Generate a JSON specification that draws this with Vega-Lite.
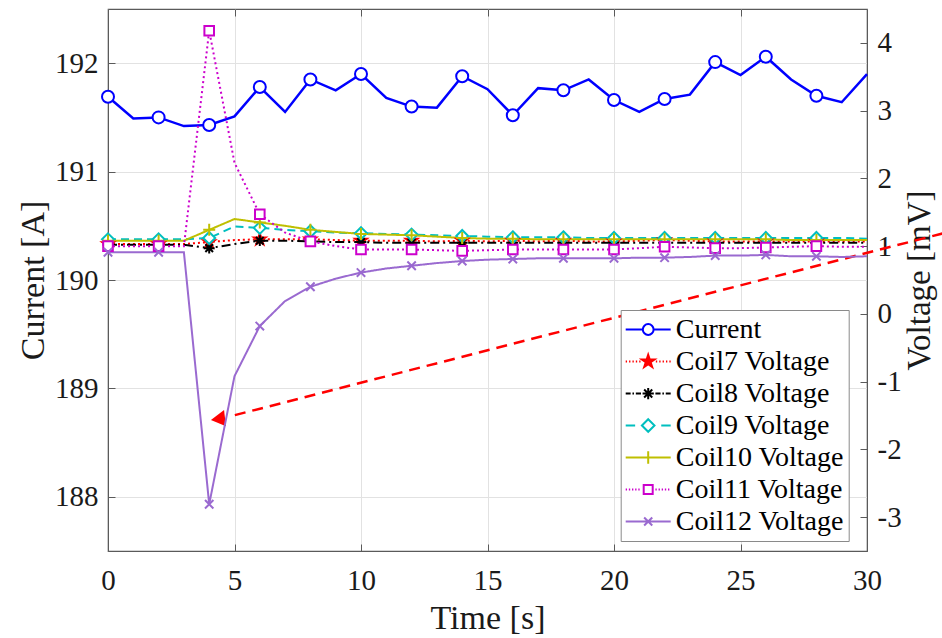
{
  "$schema": "https://vega.github.io/schema/vega-lite/v6.json",
  "width": 759,
  "height": 542,
  "autosize": "none",
  "padding": {"left": 108, "top": 9, "right": 75, "bottom": 87},
  "background": "white",
  "config": {
    "font": "Liberation Serif",
    "view": {"stroke": "#5a5a5a", "strokeWidth": 1.2},
    "axis": {
      "labelFont": "Liberation Serif", "titleFont": "Liberation Serif",
      "labelFontSize": 29, "titleFontSize": 34, "titleFontWeight": "normal",
      "labelColor": "#1a1a1a", "titleColor": "#1a1a1a",
      "domainColor": "#5a5a5a", "tickColor": "#5a5a5a", "tickSize": -7,
      "gridColor": "#e2e2e2", "gridWidth": 1
    },
    "legend": {
      "orient": "none", "legendX": 512.7, "legendY": 301,
      "labelFont": "Liberation Serif", "labelFontSize": 28, "labelColor": "#000000",
      "strokeColor": "#8a8a8a", "fillColor": "white", "padding": 4,
      "symbolSize": 2025, "symbolStrokeWidth": 2, "labelOffset": 4,
      "rowPadding": 1, "clipHeight": 31, "labelLimit": 400
    }
  },
  "datasets": {
    "d": [
      {"t": 0, "Current": 191.69, "Coil7 Voltage": 1.03, "Coil8 Voltage": 1.02, "Coil9 Voltage": 1.10, "Coil10 Voltage": 1.08, "Coil11 Voltage": 1.00, "Coil12 Voltage": 0.91},
      {"t": 1, "Current": 191.49, "Coil7 Voltage": 1.03, "Coil8 Voltage": 1.02, "Coil9 Voltage": 1.10, "Coil10 Voltage": 1.08, "Coil11 Voltage": 1.00, "Coil12 Voltage": 0.91},
      {"t": 2, "Current": 191.50, "Coil7 Voltage": 1.03, "Coil8 Voltage": 1.02, "Coil9 Voltage": 1.10, "Coil10 Voltage": 1.08, "Coil11 Voltage": 1.00, "Coil12 Voltage": 0.91},
      {"t": 3, "Current": 191.42, "Coil7 Voltage": 1.03, "Coil8 Voltage": 1.02, "Coil9 Voltage": 1.10, "Coil10 Voltage": 1.08, "Coil11 Voltage": 1.00, "Coil12 Voltage": 0.91},
      {"t": 4, "Current": 191.43, "Coil7 Voltage": 1.06, "Coil8 Voltage": 0.97, "Coil9 Voltage": 1.12, "Coil10 Voltage": 1.24, "Coil11 Voltage": 4.18, "Coil12 Voltage": -2.81},
      {"t": 5, "Current": 191.51, "Coil7 Voltage": 1.09, "Coil8 Voltage": 1.03, "Coil9 Voltage": 1.29, "Coil10 Voltage": 1.40, "Coil11 Voltage": 2.23, "Coil12 Voltage": -0.92},
      {"t": 6, "Current": 191.78, "Coil7 Voltage": 1.10, "Coil8 Voltage": 1.08, "Coil9 Voltage": 1.27, "Coil10 Voltage": 1.35, "Coil11 Voltage": 1.47, "Coil12 Voltage": -0.18},
      {"t": 7, "Current": 191.55, "Coil7 Voltage": 1.10, "Coil8 Voltage": 1.08, "Coil9 Voltage": 1.24, "Coil10 Voltage": 1.30, "Coil11 Voltage": 1.20, "Coil12 Voltage": 0.19},
      {"t": 8, "Current": 191.85, "Coil7 Voltage": 1.10, "Coil8 Voltage": 1.07, "Coil9 Voltage": 1.22, "Coil10 Voltage": 1.24, "Coil11 Voltage": 1.07, "Coil12 Voltage": 0.40},
      {"t": 9, "Current": 191.75, "Coil7 Voltage": 1.09, "Coil8 Voltage": 1.06, "Coil9 Voltage": 1.20, "Coil10 Voltage": 1.21, "Coil11 Voltage": 1.00, "Coil12 Voltage": 0.52},
      {"t": 10, "Current": 191.90, "Coil7 Voltage": 1.08, "Coil8 Voltage": 1.06, "Coil9 Voltage": 1.19, "Coil10 Voltage": 1.18, "Coil11 Voltage": 0.95, "Coil12 Voltage": 0.61},
      {"t": 11, "Current": 191.68, "Coil7 Voltage": 1.08, "Coil8 Voltage": 1.05, "Coil9 Voltage": 1.18, "Coil10 Voltage": 1.17, "Coil11 Voltage": 0.95, "Coil12 Voltage": 0.67},
      {"t": 12, "Current": 191.60, "Coil7 Voltage": 1.08, "Coil8 Voltage": 1.05, "Coil9 Voltage": 1.17, "Coil10 Voltage": 1.16, "Coil11 Voltage": 0.95, "Coil12 Voltage": 0.71},
      {"t": 13, "Current": 191.59, "Coil7 Voltage": 1.07, "Coil8 Voltage": 1.05, "Coil9 Voltage": 1.16, "Coil10 Voltage": 1.14, "Coil11 Voltage": 0.94, "Coil12 Voltage": 0.75},
      {"t": 14, "Current": 191.88, "Coil7 Voltage": 1.08, "Coil8 Voltage": 1.05, "Coil9 Voltage": 1.15, "Coil10 Voltage": 1.12, "Coil11 Voltage": 0.93, "Coil12 Voltage": 0.78},
      {"t": 15, "Current": 191.76, "Coil7 Voltage": 1.07, "Coil8 Voltage": 1.05, "Coil9 Voltage": 1.14, "Coil10 Voltage": 1.11, "Coil11 Voltage": 0.94, "Coil12 Voltage": 0.80},
      {"t": 16, "Current": 191.52, "Coil7 Voltage": 1.08, "Coil8 Voltage": 1.05, "Coil9 Voltage": 1.13, "Coil10 Voltage": 1.11, "Coil11 Voltage": 0.95, "Coil12 Voltage": 0.81},
      {"t": 17, "Current": 191.77, "Coil7 Voltage": 1.07, "Coil8 Voltage": 1.05, "Coil9 Voltage": 1.13, "Coil10 Voltage": 1.10, "Coil11 Voltage": 0.95, "Coil12 Voltage": 0.82},
      {"t": 18, "Current": 191.75, "Coil7 Voltage": 1.08, "Coil8 Voltage": 1.05, "Coil9 Voltage": 1.13, "Coil10 Voltage": 1.10, "Coil11 Voltage": 0.95, "Coil12 Voltage": 0.82},
      {"t": 19, "Current": 191.85, "Coil7 Voltage": 1.07, "Coil8 Voltage": 1.05, "Coil9 Voltage": 1.12, "Coil10 Voltage": 1.10, "Coil11 Voltage": 0.95, "Coil12 Voltage": 0.82},
      {"t": 20, "Current": 191.66, "Coil7 Voltage": 1.07, "Coil8 Voltage": 1.05, "Coil9 Voltage": 1.12, "Coil10 Voltage": 1.10, "Coil11 Voltage": 0.95, "Coil12 Voltage": 0.82},
      {"t": 21, "Current": 191.55, "Coil7 Voltage": 1.08, "Coil8 Voltage": 1.05, "Coil9 Voltage": 1.12, "Coil10 Voltage": 1.10, "Coil11 Voltage": 0.97, "Coil12 Voltage": 0.83},
      {"t": 22, "Current": 191.67, "Coil7 Voltage": 1.09, "Coil8 Voltage": 1.05, "Coil9 Voltage": 1.12, "Coil10 Voltage": 1.10, "Coil11 Voltage": 0.99, "Coil12 Voltage": 0.83},
      {"t": 23, "Current": 191.71, "Coil7 Voltage": 1.08, "Coil8 Voltage": 1.05, "Coil9 Voltage": 1.12, "Coil10 Voltage": 1.10, "Coil11 Voltage": 0.98, "Coil12 Voltage": 0.84},
      {"t": 24, "Current": 192.01, "Coil7 Voltage": 1.07, "Coil8 Voltage": 1.05, "Coil9 Voltage": 1.12, "Coil10 Voltage": 1.10, "Coil11 Voltage": 0.97, "Coil12 Voltage": 0.86},
      {"t": 25, "Current": 191.89, "Coil7 Voltage": 1.07, "Coil8 Voltage": 1.05, "Coil9 Voltage": 1.12, "Coil10 Voltage": 1.10, "Coil11 Voltage": 0.97, "Coil12 Voltage": 0.86},
      {"t": 26, "Current": 192.06, "Coil7 Voltage": 1.07, "Coil8 Voltage": 1.05, "Coil9 Voltage": 1.12, "Coil10 Voltage": 1.10, "Coil11 Voltage": 0.98, "Coil12 Voltage": 0.87},
      {"t": 27, "Current": 191.85, "Coil7 Voltage": 1.07, "Coil8 Voltage": 1.05, "Coil9 Voltage": 1.12, "Coil10 Voltage": 1.09, "Coil11 Voltage": 0.99, "Coil12 Voltage": 0.85},
      {"t": 28, "Current": 191.70, "Coil7 Voltage": 1.07, "Coil8 Voltage": 1.05, "Coil9 Voltage": 1.12, "Coil10 Voltage": 1.09, "Coil11 Voltage": 1.00, "Coil12 Voltage": 0.85},
      {"t": 29, "Current": 191.64, "Coil7 Voltage": 1.07, "Coil8 Voltage": 1.05, "Coil9 Voltage": 1.12, "Coil10 Voltage": 1.09, "Coil11 Voltage": 0.99, "Coil12 Voltage": 0.84},
      {"t": 30, "Current": 191.90, "Coil7 Voltage": 1.07, "Coil8 Voltage": 1.05, "Coil9 Voltage": 1.11, "Coil10 Voltage": 1.09, "Coil11 Voltage": 0.99, "Coil12 Voltage": 0.85}
    ],
    "arrow": [{"t": 33.0, "Current": 190.43, "t2": 4.79, "c2": 188.74}],
    "head": [{"t": 4.44, "Current": 188.72}]
  },
  "layer": [
    {
      "encoding": {
        "x": {"field": "t", "type": "quantitative", "title": "Time [s]",
          "scale": {"domain": [0, 30], "nice": false, "zero": false},
          "axis": {"values": [0, 5, 10, 15, 20, 25, 30], "grid": true, "labelFlush": false, "labelPadding": 22, "titlePadding": 6}},
        "y": {"field": "Current", "type": "quantitative", "title": "Current [A]",
          "scale": {"domain": [187.5, 192.5], "nice": false, "zero": false},
          "axis": {"orient": "left", "values": [188, 189, 190, 191, 192], "grid": true, "labelPadding": 17, "titlePadding": 4}}
      },
      "layer": [
        {
          "data": {"name": "d"},
          "mark": {"type": "line", "color": "#0000ff", "strokeWidth": 2.5}
        },
        {
          "data": {"name": "d"},
          "transform": [{"filter": "datum.t % 2 == 0 && datum.t < 30"}],
          "mark": {"type": "point", "shape": "circle", "filled": true, "fill": "white", "stroke": "#0000ff", "strokeWidth": 2, "size": 144, "opacity": 1}
        },
        {
          "data": {"name": "arrow"},
          "mark": {"type": "rule", "color": "#ff0000", "strokeWidth": 2.5, "strokeDash": [11, 7], "clip": false},
          "encoding": {
            "x2": {"field": "t2"},
            "y2": {"field": "c2"}
          }
        },
        {
          "data": {"name": "head"},
          "mark": {"type": "point", "shape": "triangle", "angle": 263, "filled": true, "color": "#ff0000", "size": 270, "opacity": 1, "clip": false}
        }
      ]
    },
    {
      "data": {"name": "d"},
      "transform": [{"fold": ["Coil7 Voltage", "Coil8 Voltage", "Coil9 Voltage", "Coil10 Voltage", "Coil11 Voltage", "Coil12 Voltage"], "as": ["series", "v"]}],
      "encoding": {
        "x": {"field": "t", "type": "quantitative", "title": "Time [s]", "scale": {"domain": [0, 30], "nice": false, "zero": false}, "axis": null},
        "y": {"field": "v", "type": "quantitative", "title": "Voltage [mV]",
          "scale": {"domain": [-3.5, 4.5], "nice": false, "zero": false},
          "axis": {"orient": "right", "values": [-3, -2, -1, 0, 1, 2, 3, 4], "grid": false, "labelPadding": 17, "titlePadding": 2, "titleFontSize": 33, "titleAngle": 270, "titleBaseline": "top",
            "labelExpr": "datum.value < 0 ? '-' + abs(datum.value) : '' + datum.value"}},
        "stroke": {"field": "series", "type": "nominal", "legend": null,
          "scale": {"domain": ["Coil7 Voltage", "Coil8 Voltage", "Coil9 Voltage", "Coil10 Voltage", "Coil11 Voltage", "Coil12 Voltage"],
            "range": ["#ff0000", "#000000", "#00bfbf", "#bfbf00", "#cc00cc", "#9a6ad0"]}}
      },
      "layer": [
        {
          "mark": {"type": "line", "strokeWidth": 2},
          "encoding": {
            "strokeDash": {"field": "series", "type": "nominal", "legend": null,
              "scale": {"domain": ["Coil7 Voltage", "Coil8 Voltage", "Coil9 Voltage", "Coil10 Voltage", "Coil11 Voltage", "Coil12 Voltage"],
                "range": [[2, 3], [9, 4, 2, 4], [8, 5], [1, 0], [2, 3], [1, 0]]}}
          }
        },
        {
          "transform": [{"filter": "datum.t % 2 == 0 && datum.t < 30"}],
          "mark": {"type": "point", "filled": true, "strokeWidth": 2, "size": 144, "opacity": 1},
          "encoding": {
            "fill": {"field": "series", "type": "nominal", "legend": null,
              "scale": {"domain": ["Coil7 Voltage", "Coil8 Voltage", "Coil9 Voltage", "Coil10 Voltage", "Coil11 Voltage", "Coil12 Voltage"],
                "range": ["#ff0000", "rgba(0,0,0,0)", "#ffffff", "rgba(0,0,0,0)", "#ffffff", "rgba(0,0,0,0)"]}},
            "shape": {"field": "series", "type": "nominal", "legend": null,
              "scale": {"domain": ["Coil7 Voltage", "Coil8 Voltage", "Coil9 Voltage", "Coil10 Voltage", "Coil11 Voltage", "Coil12 Voltage"],
                "range": [
                  "M0,-1L0.225,-0.309L0.951,-0.309L0.363,0.118L0.588,0.809L0,0.382L-0.588,0.809L-0.363,0.118L-0.951,-0.309L-0.225,-0.309Z",
                  "M0,-0.9V0.9M-0.9,0H0.9M-0.64,-0.64L0.64,0.64M-0.64,0.64L0.64,-0.64",
                  "M0,-1L1,0L0,1L-1,0Z",
                  "M0,-1V1M-1,0H1",
                  "M-0.8,-0.8H0.8V0.8H-0.8Z",
                  "M-0.7,-0.7L0.7,0.7M-0.7,0.7L0.7,-0.7"
                ]}}
          }
        }
      ]
    },
    {
      "data": {"name": "d"},
      "transform": [{"filter": "datum.t < -100"}, {"fold": ["Current"], "as": ["entry", "v"]}],
      "mark": {"type": "point", "filled": true, "strokeWidth": 2, "opacity": 1},
      "encoding": {
        "x": {"field": "t", "type": "quantitative", "title": "Time [s]",
          "scale": {"domain": [0, 30], "nice": false, "zero": false},
          "axis": {"orient": "top", "labels": false, "title": null, "grid": false, "domain": false, "values": [0, 5, 10, 15, 20, 25, 30]}},
        "stroke": {"field": "entry", "type": "nominal", "title": null,
          "scale": {"domain": ["Current", "Coil7 Voltage", "Coil8 Voltage", "Coil9 Voltage", "Coil10 Voltage", "Coil11 Voltage", "Coil12 Voltage"],
            "range": ["#0000ff", "#ff0000", "#000000", "#00bfbf", "#bfbf00", "#cc00cc", "#9a6ad0"]}},
        "fill": {"field": "entry", "type": "nominal", "title": null,
          "scale": {"domain": ["Current", "Coil7 Voltage", "Coil8 Voltage", "Coil9 Voltage", "Coil10 Voltage", "Coil11 Voltage", "Coil12 Voltage"],
            "range": ["#ffffff", "#ff0000", "rgba(0,0,0,0)", "#ffffff", "rgba(0,0,0,0)", "#ffffff", "rgba(0,0,0,0)"]}},
        "shape": {"field": "entry", "type": "nominal", "title": null,
          "scale": {"domain": ["Current", "Coil7 Voltage", "Coil8 Voltage", "Coil9 Voltage", "Coil10 Voltage", "Coil11 Voltage", "Coil12 Voltage"],
            "range": [
              "M-1,0H-0.26M0.26,0H1M0.24,0A0.24,0.24,0,1,1,-0.24,0A0.24,0.24,0,1,1,0.24,0Z",
              "M-1,0h0.06M-0.85,0h0.06M-0.7,0h0.06M-0.55,0h0.06M-0.4,0h0.06M0.34,0h0.06M0.49,0h0.06M0.64,0h0.06M0.79,0h0.06M0.94,0h0.06M0,-0.3L0.067,-0.093L0.285,-0.093L0.109,0.035L0.176,0.243L0,0.115L-0.176,0.243L-0.109,0.035L-0.285,-0.093L-0.067,-0.093Z",
              "M-1,0H-0.78M-0.7,0H-0.63M-0.55,0H-0.32M0.32,0H0.55M0.63,0H0.7M0.78,0H1M0,-0.25V0.25M-0.25,0H0.25M-0.18,-0.18L0.18,0.18M-0.18,0.18L0.18,-0.18",
              "M-1,0H-0.58M0.58,0H1M0,-0.28L0.28,0L0,0.28L-0.28,0Z",
              "M-1,0H1M0,-0.28V0.28",
              "M-1,0h0.06M-0.86,0h0.06M-0.72,0h0.06M-0.58,0h0.06M-0.44,0h0.06M0.32,0h0.06M0.46,0h0.06M0.6,0h0.06M0.74,0h0.06M0.88,0h0.06M-0.2,-0.2H0.2V0.2H-0.2Z",
              "M-1,0H1M-0.18,-0.18L0.18,0.18M-0.18,0.18L0.18,-0.18"
            ]}}
      }
    }
  ],
  "resolve": {
    "scale": {"y": "independent", "stroke": "independent", "fill": "independent", "shape": "independent", "strokeDash": "independent"},
    "axis": {"x": "independent", "y": "independent"}
  }
}
